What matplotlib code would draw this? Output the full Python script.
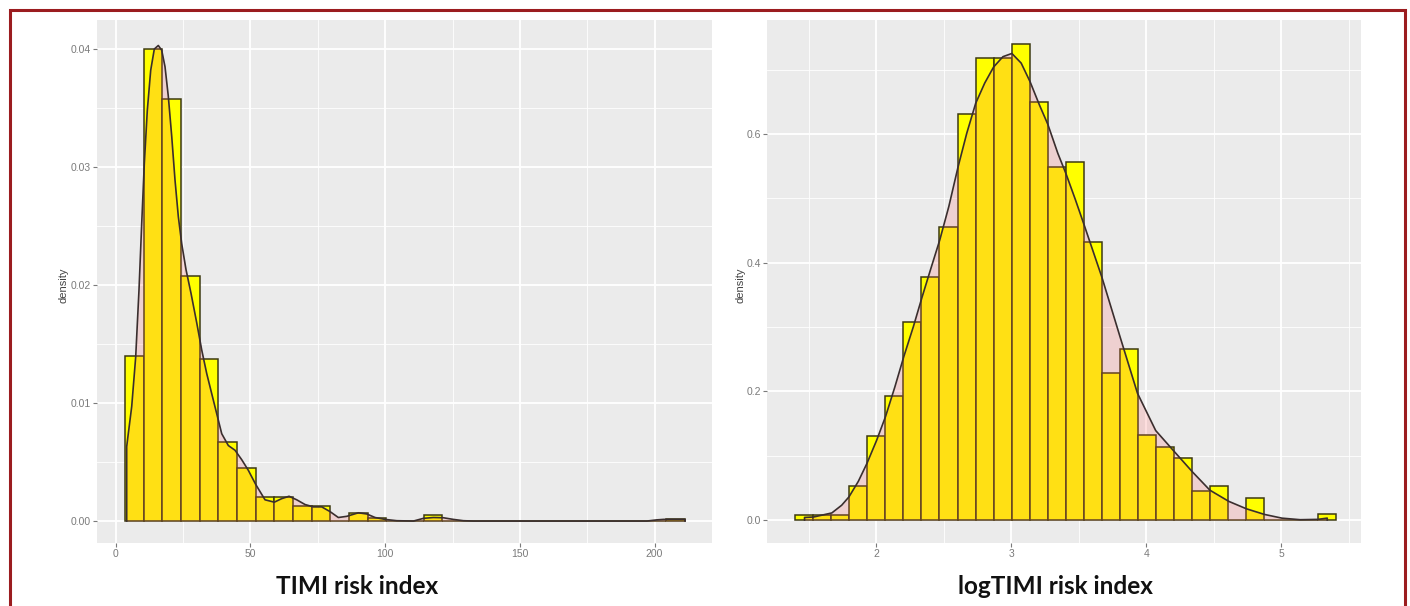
"""Two histograms of TIMI risk index with density overlay (ggplot look)."""

import numpy as np
import matplotlib.pyplot as plt
from matplotlib.patches import Rectangle

# =============================================================================
# Data

# TIMI risk index: 30 bins
timi_range = (3.45, 211.3)
timi_hist = [0.0140, 0.0400, 0.0358, 0.0208, 0.0137, 0.0067, 0.0045, 0.0020,
             0.0020, 0.0013, 0.0013, 0.0, 0.00065, 0.0003, 0.0, 0.0, 0.0005,
             0.0, 0.0, 0.0, 0.0, 0.0, 0.0, 0.0, 0.0, 0.0, 0.0, 0.0, 0.0,
             0.00017]
timi_kde_x = [4.08, 4.08, 4.45, 5.94, 7.42, 8.65, 9.65, 10.62, 11.73, 12.99,
              14.33, 15.81, 17.07, 18.30, 19.52, 20.79, 22.01, 23.24, 24.50,
              26.10, 27.95, 30.07, 31.92, 33.78, 35.63, 37.49, 39.35, 41.80,
              44.28, 46.77, 49.22, 51.97, 55.42, 58.87, 61.62, 64.33, 67.19,
              70.27, 73.35, 76.47, 79.55, 82.63, 85.75, 90.05, 93.17, 96.25,
              99.96, 104.3, 110.5, 114.2, 117.9, 121.6, 125.3, 129.0, 132.7,
              197.1, 200.8, 203.3, 211.3, 211.3]
timi_kde_y = [0.0, 0.0063, 0.0070, 0.0097, 0.0139, 0.0196, 0.0252, 0.0303,
              0.0348, 0.0382, 0.0400, 0.0403, 0.0399, 0.0385, 0.0360, 0.0326,
              0.0289, 0.0258, 0.0235, 0.0213, 0.0193, 0.0168, 0.0145, 0.0125,
              0.0108, 0.0091, 0.0074, 0.0064, 0.0060, 0.0052, 0.0043, 0.0031,
              0.0018, 0.0016, 0.0019, 0.0021, 0.0018, 0.0014, 0.0012, 0.0012,
              0.0008, 0.0003, 0.0004, 0.0007, 0.0006, 0.0003, 0.00014,
              0.00003, 0.0, 0.00023, 0.0003, 0.00028, 0.00014, 0.00003, 0.0,
              0.0, 0.0001, 0.00014, 0.00014, 0.0]

# logTIMI risk index: 30 bins
log_range = (1.401, 5.406)
log_hist = [0.0085, 0.0075, 0.0075, 0.0528, 0.131, 0.193, 0.307, 0.378,
            0.456, 0.631, 0.7185, 0.7185, 0.740, 0.650, 0.548, 0.556, 0.432,
            0.229, 0.265, 0.1316, 0.114, 0.097, 0.0446, 0.0533, 0.0, 0.0348,
            0.0, 0.0, 0.0, 0.0087]
log_kde_x = [1.47, 1.47, 1.537, 1.672, 1.745, 1.799, 1.868, 1.932, 2.004,
             2.070, 2.139, 2.205, 2.275, 2.341, 2.410, 2.471, 2.538, 2.607,
             2.671, 2.737, 2.804, 2.870, 2.939, 3.005, 3.074, 3.140, 3.209,
             3.271, 3.345, 3.406, 3.475, 3.541, 3.672, 3.807, 3.935, 4.070,
             4.205, 4.341, 4.471, 4.611, 4.742, 4.875, 5.005, 5.140, 5.271,
             5.340, 5.340]
log_kde_y = [0.0, 0.004, 0.0047, 0.011, 0.023, 0.036, 0.060, 0.088, 0.124,
             0.161, 0.207, 0.254, 0.300, 0.347, 0.394, 0.435, 0.487, 0.549,
             0.601, 0.6475, 0.679, 0.704, 0.720, 0.725, 0.710, 0.681, 0.645,
             0.615, 0.570, 0.538, 0.498, 0.458, 0.377, 0.284, 0.197, 0.139,
             0.107, 0.075, 0.0464, 0.029, 0.0174, 0.0087, 0.0029, 0.0005,
             0.001, 0.003, 0.0]

# =============================================================================
# Style
BG = "#EBEBEB"
BAR_FILL = "#FFFF00"
BAR_EDGE = "#3d3a12"
KDE_FILL = "#FF6666"
KDE_LINE = "#3a2e2e"
TICK_COL = "#7a7a7a"
BORDER = "#9b1c1f"

W, H = 1410, 606
fig = plt.figure(figsize=(W / 100, H / 100), dpi=100)
fig.patch.set_facecolor("white")


def panel(rect, rng, hist, kx, ky, xlim, ylim, xmaj, xmin, ymaj, ymin,
          ylabels, ylab_x):
    ax = fig.add_axes(rect)
    ax.set_facecolor(BG)
    for s in ax.spines.values():
        s.set_visible(False)

    edges = np.linspace(rng[0], rng[1], len(hist) + 1)
    ax.bar(edges[:-1], hist, width=np.diff(edges), align="edge",
           color=BAR_FILL, edgecolor=BAR_EDGE, linewidth=1.1, zorder=2)
    ax.fill_between(kx, ky, color=KDE_FILL, alpha=0.2, linewidth=0, zorder=3)
    ax.plot(kx, ky, color=KDE_LINE, linewidth=1.2, zorder=4)

    ax.set_xlim(xlim)
    ax.set_ylim(ylim)
    ax.set_xticks(xmaj)
    ax.set_xticks(xmin, minor=True)
    ax.set_yticks(ymaj)
    ax.set_yticks(ymin, minor=True)
    ax.set_yticklabels(ylabels)
    ax.grid(which="major", color="white", linewidth=1.3, zorder=0)
    ax.grid(which="minor", color="white", linewidth=0.6, zorder=0)
    ax.set_axisbelow(True)
    ax.tick_params(which="major", length=2.8, width=0.8, color=TICK_COL,
                   labelcolor=TICK_COL, labelsize=7.5, pad=1.5)
    ax.tick_params(which="minor", length=0)
    for t in ax.get_xticklabels() + ax.get_yticklabels():
        t.set_family("Liberation Sans")
    ax.set_ylabel("density", fontsize=8, color="#444444",
                  family="Liberation Sans")
    ax.yaxis.set_label_coords(ylab_x, 0.493)
    return ax


bottom = 1 - 543 / H
height = 523 / H

panel([97 / W, bottom, 615 / W, height], timi_range, timi_hist,
      timi_kde_x, timi_kde_y, (-6.94, 221.3), (-0.00186, 0.04246),
      [0, 50, 100, 150, 200], [25, 75, 125, 175],
      [0, 0.01, 0.02, 0.03, 0.04], [0.005, 0.015, 0.025, 0.035],
      ["0.00", "0.01", "0.02", "0.03", "0.04"], -0.047)

panel([767 / W, bottom, 594 / W, height], log_range, log_hist,
      log_kde_x, log_kde_y, (1.192, 5.590), (-0.0357, 0.777),
      [2, 3, 4, 5], [1.5, 2.5, 3.5, 4.5, 5.5],
      [0.0, 0.2, 0.4, 0.6], [0.1, 0.3, 0.5, 0.7],
      ["0.0", "0.2", "0.4", "0.6"], -0.036)

# Captions under each panel
fig.text(357.5 / W, 1 - 594 / H, "TIMI risk index", ha="center",
         va="baseline", fontsize=17.5, fontweight="bold", family="Lato",
         color="#111111")
fig.text(1055 / W, 1 - 594 / H, "logTIMI risk index", ha="center",
         va="baseline", fontsize=17.5, fontweight="bold", family="Lato",
         color="#111111")

# Dark red frame round the figure
fig.patches.append(Rectangle((10 / W, -0.05), 1395 / W, 1.05 - 10.5 / H,
                             transform=fig.transFigure, fill=False,
                             edgecolor=BORDER, linewidth=2.2))

fig.savefig("out.png", dpi=100)
print("Finished.")
